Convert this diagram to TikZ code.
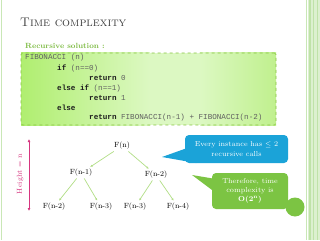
\documentclass[tikz,border=0pt]{standalone}
\usepackage{fontspec}
\newfontfamily\codefont{Liberation Mono}
\usetikzlibrary{arrows.meta}
\definecolor{framegreen}{HTML}{C9E7B6}
\definecolor{barlight}{HTML}{DCF0CF}
\definecolor{barstripe}{HTML}{BFE2A8}
\definecolor{titlegray}{HTML}{3F3F3F}
\definecolor{recgreen}{HTML}{7DBB42}
\definecolor{codeborder}{HTML}{86C440}
\definecolor{codeleft}{HTML}{B0EE70}
\definecolor{codemid}{HTML}{DCF8C2}
\definecolor{coderight}{HTML}{C0F08E}
\definecolor{codegray}{HTML}{606060}
\definecolor{codekey}{HTML}{1E1E1E}
\definecolor{treeline}{HTML}{B2DE86}
\definecolor{callblue}{HTML}{1BA3D8}
\definecolor{callgreen}{HTML}{7CC443}
\definecolor{heightpink}{HTML}{D6357F}
\tikzset{
  codeline/.style={anchor=west, inner sep=0pt, font=\codefont\fontsize{7.6}{9}\selectfont, text=codegray},
  treelabel/.style={inner sep=1.5pt, font=\fontsize{7.5}{9}\selectfont, text=black},
  treeedge/.style={draw=treeline, line width=0.7pt, -{Latex[length=2.5pt,width=2.2pt]}, shorten >=1pt},
  callbox/.style={rounded corners=4pt, inner sep=2pt, align=center, text=white, font=\fontsize{7.2}{9.2}\selectfont}
}
\begin{document}
\begin{tikzpicture}[x=1pt,y=-1pt]
\useasboundingbox (0,0) rectangle (320,240);
\fill[white] (0,0) rectangle (320,240);
% frame
\draw[framegreen, line width=0.8pt] (1.5,0) -- (1.5,240);
\fill[barlight] (308,0) rectangle (320,240);
\fill[barstripe] (309,0) rectangle (310.5,240);
\fill[barstripe] (313,0) rectangle (314,240);
\fill[barstripe] (316.5,0) rectangle (317.5,240);
\draw[framegreen, line width=0.7pt] (306,0) -- (306,240);
% title
\node[anchor=base west, inner sep=0pt, text=titlegray, font=\fontsize{12.5}{15}\selectfont] (title) at (20,27) {\textsc{Time complexity}};
\node[anchor=base west, inner sep=0pt, text=recgreen, font=\bfseries\fontsize{7.5}{9}\selectfont] (rec) at (25,49) {Recursive solution :};
% code box background
\shade[left color=codeleft, right color=codemid] (21,53) rectangle (150,125);
\fill[codemid] (149.5,53) rectangle (200.5,125);
\shade[left color=codemid, right color=coderight] (200,53) rectangle (276,125);
\node[draw=codeborder, dashed, line width=0.6pt, rounded corners=1.5pt, minimum width=255pt, minimum height=72pt, inner sep=0pt] (codebox) at (148.5,89) {};
\node[codeline] (c1) at (25,58) {FIBONACCI (n)};
\node[codeline] (c2) at (57,68) {\textcolor{codekey}{\bfseries if} (n==0)};
\node[codeline] (c3) at (89,78) {\textcolor{codekey}{\bfseries return} 0};
\node[codeline] (c4) at (57,88) {\textcolor{codekey}{\bfseries else if} (n==1)};
\node[codeline] (c5) at (89,98) {\textcolor{codekey}{\bfseries return} 1};
\node[codeline] (c6) at (57,108) {\textcolor{codekey}{\bfseries else}};
\node[codeline] (c7) at (89,118) {\textcolor{codekey}{\bfseries return} FIBONACCI(n-1) + FIBONACCI(n-2)};
% height arrow
\coordinate (htop) at (29,139);
\coordinate (hbot) at (29,211);
\draw[heightpink, line width=1pt, {Latex[length=3pt,width=3pt]}-{Latex[length=3pt,width=3pt]}] (htop) -- (hbot);
\node[rotate=90, text=heightpink, inner sep=0pt, font=\fontsize{7.2}{9}\selectfont] (hlabel) at (20,174) {Height = n};
% tree
\node[treelabel] (fn) at (122,146) {F(n)};
\node[treelabel] (fn1) at (81,173) {F(n-1)};
\node[treelabel] (fn2) at (156,175) {F(n-2)};
\node[treelabel] (l1) at (54,207) {F(n-2)};
\node[treelabel] (l2) at (101,207) {F(n-3)};
\node[treelabel] (l3) at (135,207) {F(n-3)};
\node[treelabel] (l4) at (178,207) {F(n-4)};
\draw[treeedge] (fn) -- (fn1);
\draw[treeedge] (fn) -- (fn2);
\draw[treeedge] (fn1) -- (l1);
\draw[treeedge] (fn1) -- (l2);
\draw[treeedge] (fn2) -- (l3);
\draw[treeedge] (fn2) -- (l4);
% blue callout
\coordinate (btip) at (162,157);
\fill[callblue] (btip) -- (190,147) -- (196,163) -- cycle;
\node[callbox, fill=callblue, minimum width=103pt, minimum height=28pt] (blue) at (236.5,149) {Every instance has $\leq$ 2\\recursive calls};
% green callout
\coordinate (gtip) at (192,175);
\fill[callgreen] (gtip) -- (216,179) -- (216,193) -- cycle;
\node[callbox, fill=callgreen, minimum width=76pt, minimum height=36pt] (green) at (250,191) {Therefore, time\\complexity is\\\textbf{O(2\textsuperscript{n})}};
\fill[callgreen] (295,207) circle (9.5pt);
\end{tikzpicture}
\end{document}
